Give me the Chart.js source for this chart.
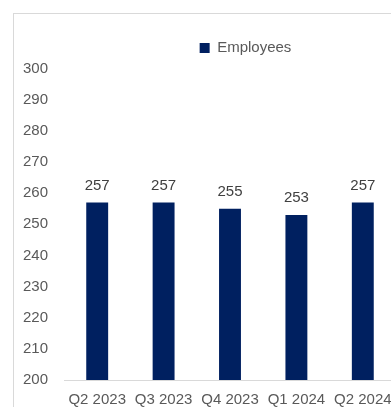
<!DOCTYPE html>
<html>
<head>
<meta charset="utf-8">
<script src="https://cdn.jsdelivr.net/npm/chart.js@4"></script>
<style>
  html, body { margin: 0; padding: 0; background: #fff; overflow: hidden; width: 391px; height: 407px; }
  .frame { position: absolute; left: 13px; top: 13px; width: 454px; height: 412px; border: 1px solid #d9d9d9; }
  canvas { display: block; }
</style>
</head>
<body>
<div class="frame"><canvas id="empChart" width="454" height="412"></canvas></div>
<script>
var quarters = ['Q2 2023', 'Q3 2023', 'Q4 2023', 'Q1 2024', 'Q2 2024'];
var employees = [257, 257, 255, 253, 257];
var yTicks = [200, 210, 220, 230, 240, 250, 260, 270, 280, 290, 300];

var txt = '#595959';

// draw numbers above each bar
var valueLabels = {
  id: 'valueLabels',
  afterDatasetsDraw: function (chart) {
    var ctx = chart.ctx;
    ctx.save();
    ctx.font = '15px "Liberation Sans", Arial, sans-serif';
    ctx.fillStyle = '#404040';
    ctx.textAlign = 'center';
    ctx.textBaseline = 'middle';
    chart.getDatasetMeta(0).data.forEach(function (bar, i) {
      ctx.fillText(employees[i], bar.x, bar.y - 17);
    });
    ctx.restore();
  }
};

var empChart = new Chart(document.getElementById('empChart').getContext('2d'), {
  type: 'bar',
  data: {
    labels: quarters,
    datasets: [{
      label: 'Employees',
      data: employees,
      backgroundColor: '#002060',
      barPercentage: 0.33,
      categoryPercentage: 1
    }]
  },
  options: {
    responsive: false,
    animation: false,
    layout: { padding: { left: 9, top: 14, bottom: 6, right: 0 } },
    plugins: {
      legend: {
        position: 'top',
        labels: {
          boxWidth: 10,
          boxHeight: 10,
          padding: 12.5,
          color: txt,
          font: { family: '"Liberation Sans", Arial, sans-serif', size: 15 }
        }
      },
      tooltip: { enabled: false }
    },
    scales: {
      x: {
        grid: { display: false, drawTicks: false },
        border: { display: true, color: '#d9d9d9', width: 1 },
        ticks: {
          color: txt,
          padding: 11,
          maxRotation: 0,
          font: { family: '"Liberation Sans", Arial, sans-serif', size: 15 }
        }
      },
      // empty band under the legend
      xTop: {
        type: 'category',
        position: 'top',
        display: true,
        afterFit: function (s) { s.height = 3; },
        grid: { display: false, drawTicks: false },
        border: { display: false },
        ticks: { display: false }
      },
      y: {
        min: 200,
        max: 300,
        afterBuildTicks: function (s) { s.ticks = yTicks.map(function (v) { return { value: v }; }); },
        afterFit: function (s) { s.width = 41; },
        grid: { display: false, drawTicks: false },
        border: { display: false },
        ticks: {
          color: txt,
          crossAlign: 'far',
          font: { family: '"Liberation Sans", Arial, sans-serif', size: 15 }
        }
      },
      yRight: {
        position: 'right',
        display: true,
        afterFit: function (s) { s.width = 72; },
        grid: { display: false, drawTicks: false },
        border: { display: false },
        ticks: { display: false }
      }
    }
  },
  plugins: [valueLabels]
});
</script>
</body>
</html>
